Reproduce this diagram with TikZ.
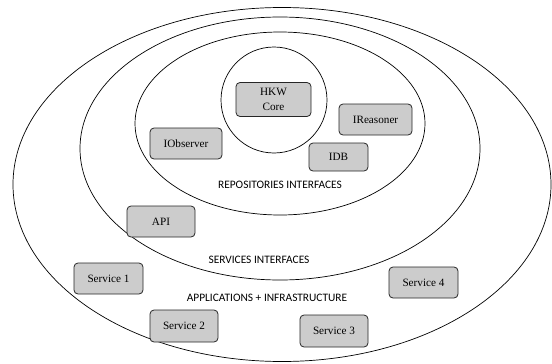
\documentclass[tikz,border=0pt]{standalone}
\usepackage{fontspec}
\setmainfont{Liberation Serif}
\newfontfamily\labfont{Carlito}
\begin{document}
\begin{tikzpicture}[x=1pt,y=-1pt,
  ring/.style={draw=black,line width=0.7pt},
  box/.style={draw=black!85,fill=black!20,rounded corners=4pt,line width=0.8pt,font=\fontsize{11.2}{15}\selectfont,align=center,inner sep=0pt},
  lab/.style={font=\labfont\fontsize{11.4}{12}\selectfont,inner sep=0pt}]
\useasboundingbox (0,0) rectangle (552,364);
\draw[ring] (282,184.5) ellipse [x radius=269, y radius=177];
\draw[ring] (280,148.5) ellipse [x radius=200, y radius=131.5];
\draw[ring] (280,123.5) ellipse [x radius=145, y radius=91.5];
\draw[ring] (274,100) circle [radius=53];
\node[box,minimum width=75pt,minimum height=34pt] (core) at (273.5,99.5) {HKW\\Core};
\node[box,minimum width=73pt,minimum height=31pt] (ireas) at (375.5,119.5) {IReasoner};
\node[box,minimum width=72pt,minimum height=31pt] (iobs) at (186,143.5) {IObserver};
\node[box,minimum width=59pt,minimum height=28pt] (idb) at (338.5,157) {IDB};
\node[lab] (repo) at (280,184.5) {REPOSITORIES INTERFACES};
\node[box,minimum width=68pt,minimum height=31pt] (api) at (161,221.5) {API};
\node[lab] (serv) at (259,260) {SERVICES INTERFACES};
\node[box,minimum width=69pt,minimum height=31pt] (s1) at (108.5,278.5) {Service 1};
\node[box,minimum width=69pt,minimum height=31pt] (s4) at (423.5,282.5) {Service 4};
\node[lab] (apps) at (267,298) {APPLICATIONS + INFRASTRUCTURE};
\node[box,minimum width=68pt,minimum height=32pt] (s2) at (184,326) {Service 2};
\node[box,minimum width=68pt,minimum height=32pt] (s3) at (334,331) {Service 3};
\end{tikzpicture}
\end{document}
